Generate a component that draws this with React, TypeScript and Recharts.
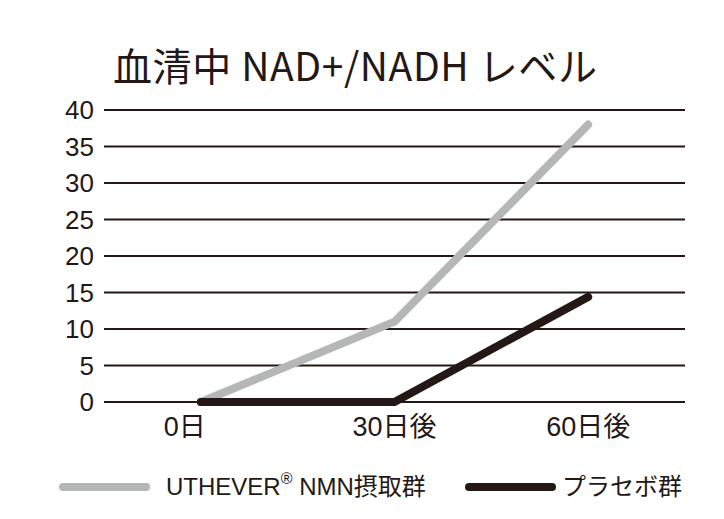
import { LineChart, Line, XAxis, YAxis, CartesianGrid } from "recharts";

const days = ["0日", "30日後", "60日後"];
const nmnGroup = [0, 11, 38];
const placeboGroup = [0, 0, 14.4];
const yTicks = [0, 5, 10, 15, 20, 25, 30, 35, 40];

const GRAY = "#b5b6b6";
const DARK = "#231815";
const FONT = "'Liberation Sans', 'Noto Sans CJK JP', sans-serif";

const data = days.map((day, i) => ({ day, nmn: nmnGroup[i], placebo: placeboGroup[i] }));

// the first label sits a bit left of its point in the original
const DayTick = ({ x, y, payload, index }: any) => (
  <text x={x + (index === 0 ? -16 : 0)} y={y} dy="0.71em" textAnchor="middle" fill={DARK} fontSize={27} fontFamily={FONT}>
    {payload.value}
  </text>
);

const legendItems = [
  { key: "nmn", color: GRAY, lineX: 59, textX: 166, label: <>UTHEVER<sup style={{ fontSize: 16, verticalAlign: "top", lineHeight: 1 }}>®</sup> NMN摂取群</> },
  { key: "placebo", color: DARK, lineX: 465, textX: 562, label: <>プラセボ群</> },
];

export default function App() {
  return (
    <div style={{ position: "absolute", left: 0, top: 0, width: 724, height: 519, background: "#fff" }}>
      <div style={{ position: "absolute", left: 113, top: 36, fontFamily: "'Noto Sans CJK JP', sans-serif", fontSize: 39, letterSpacing: 0.6, color: DARK, whiteSpace: "nowrap" }}>
        血清中 NAD+/NADH レベル
      </div>
      <LineChart width={724} height={519} data={data} margin={{ top: 110, right: 39, left: 0, bottom: 0 }}>
        <CartesianGrid vertical={false} stroke={DARK} strokeWidth={2} />
        <XAxis
          dataKey="day"
          scale="band"
          axisLine={false}
          tickLine={false}
          tickSize={0}
          tickMargin={15}
          height={117}
          tick={<DayTick />}
        />
        <YAxis
          domain={[0, 40]}
          ticks={yTicks}
          interval={0}
          axisLine={false}
          tickLine={false}
          tickSize={0}
          tickMargin={10}
          width={104}
          tick={{ fill: DARK, fontSize: 26, fontFamily: FONT }}
        />
        <Line dataKey="nmn" stroke={GRAY} strokeWidth={8} strokeLinecap="round" dot={false} isAnimationActive={false} />
        <Line dataKey="placebo" stroke={DARK} strokeWidth={8} strokeLinecap="round" dot={false} isAnimationActive={false} />
      </LineChart>
      {legendItems.map((item) => (
        <div key={item.key}>
          <div style={{ position: "absolute", left: item.lineX, top: 483, width: 91, height: 8, borderRadius: 4, background: item.color }} />
          <div style={{ position: "absolute", left: item.textX, top: 471, fontFamily: FONT, fontSize: 24, lineHeight: "32px", color: DARK, whiteSpace: "nowrap" }}>
            {item.label}
          </div>
        </div>
      ))}
    </div>
  );
}
